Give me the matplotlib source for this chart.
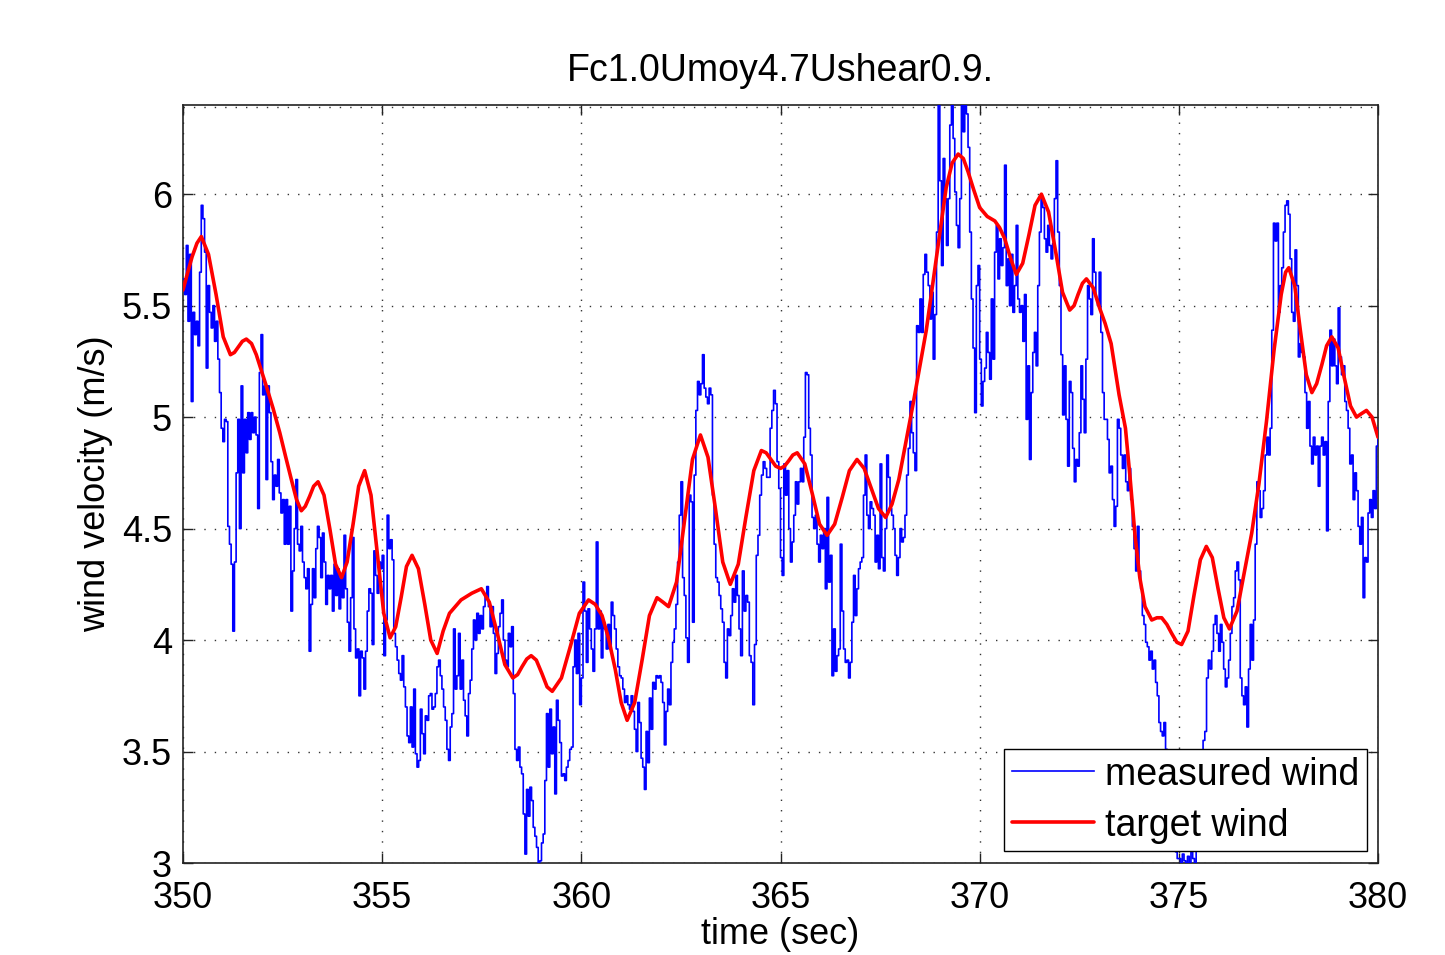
import numpy as np
import matplotlib
matplotlib.use("Agg")
import matplotlib.pyplot as plt

plt.rcParams['font.family'] = ['Liberation Sans', 'DejaVu Sans']

TITLE = "Fc1.0Umoy4.7Ushear0.9."
X_LABEL = "time (sec)"
Y_LABEL = "wind velocity (m/s)"
X_TICKS = [350, 355, 360, 365, 370, 375, 380]
Y_TICKS = [3, 3.5, 4, 4.5, 5, 5.5, 6]
Y_TICK_LABELS = ["3", "3.5", "4", "4.5", "5", "5.5", "6"]

# measured wind samples, one row per second starting at t = 350 s
measured_rows = [
    [5.62, 5.55, 5.77, 5.43, 5.73, 5.07, 5.47, 5.37, 5.43, 5.32, 5.65, 5.95, 5.89, 5.74, 5.22, 5.59, 5.47, 5.40, 5.50, 5.34, 5.43, 5.26, 5.11, 4.95],
    [4.89, 4.99, 4.98, 4.51, 4.43, 4.34, 4.04, 4.35, 4.75, 4.99, 4.50, 5.14, 4.75, 4.99, 4.84, 5.02, 4.90, 5.02, 4.93, 5.00, 4.92, 4.59, 5.20, 5.37],
    [5.10, 5.14, 4.72, 5.14, 5.02, 4.80, 4.63, 4.74, 4.69, 4.81, 4.66, 4.57, 4.63, 4.43, 4.63, 4.43, 4.60, 4.13, 4.31, 4.50, 4.72, 4.43, 4.40, 4.51],
    [4.35, 4.28, 4.23, 4.32, 3.95, 4.16, 4.32, 4.19, 4.41, 4.51, 4.46, 4.28, 4.48, 4.35, 4.16, 4.29, 4.23, 4.29, 4.13, 4.34, 4.20, 4.32, 4.14, 4.28],
    [4.19, 4.47, 4.23, 4.08, 3.95, 4.19, 4.46, 4.05, 3.92, 3.96, 3.75, 3.95, 3.92, 3.78, 3.95, 4.13, 4.23, 4.21, 3.98, 4.40, 4.29, 4.21, 4.35, 4.32],
    [4.38, 3.93, 4.09, 4.56, 4.41, 4.45, 4.36, 4.03, 3.97, 3.91, 3.85, 3.82, 3.93, 3.79, 3.70, 3.57, 3.54, 3.70, 3.52, 3.78, 3.49, 3.43, 3.46, 3.69],
    [3.58, 3.49, 3.66, 3.64, 3.75, 3.76, 3.69, 3.70, 3.76, 3.88, 3.91, 3.84, 3.78, 3.70, 3.64, 3.51, 3.46, 3.61, 3.67, 4.05, 3.78, 3.84, 4.03, 3.78],
    [3.91, 3.73, 3.66, 3.57, 3.76, 3.82, 3.96, 4.09, 4.00, 4.12, 4.03, 4.11, 4.05, 4.15, 4.20, 4.24, 4.15, 4.06, 4.15, 4.03, 3.85, 3.94, 4.06, 4.12],
    [4.18, 4.00, 3.91, 3.88, 4.03, 3.97, 4.06, 3.76, 3.51, 3.46, 3.52, 3.43, 3.40, 3.22, 3.04, 3.33, 3.21, 3.34, 3.28, 3.16, 3.12, 3.07, 3.00, 3.01],
    [3.09, 3.13, 3.37, 3.67, 3.43, 3.69, 3.49, 3.61, 3.31, 3.73, 3.64, 3.54, 3.39, 3.40, 3.37, 3.43, 3.46, 3.51, 3.52, 3.88, 4.00, 3.85, 4.03, 3.71],
    [3.83, 4.26, 4.13, 3.90, 4.14, 4.05, 3.96, 3.86, 4.05, 4.44, 4.05, 4.13, 3.92, 4.08, 4.05, 3.96, 4.07, 3.96, 4.17, 4.11, 4.05, 3.96, 3.88, 3.84],
    [3.83, 3.78, 3.72, 3.75, 3.71, 3.69, 3.75, 3.68, 3.60, 3.50, 3.72, 3.63, 3.47, 3.43, 3.33, 3.59, 3.45, 3.74, 3.60, 3.81, 3.78, 3.84, 3.83, 3.84],
    [3.81, 3.72, 3.53, 3.68, 3.78, 3.71, 3.90, 3.99, 4.05, 4.16, 4.35, 4.56, 4.71, 4.28, 4.20, 4.01, 3.90, 4.65, 4.62, 4.08, 4.74, 5.03, 5.16, 5.10],
    [5.15, 5.28, 5.13, 5.09, 5.06, 5.13, 5.10, 4.65, 4.43, 4.28, 4.26, 4.20, 4.14, 4.08, 3.90, 3.83, 4.05, 4.02, 4.11, 4.23, 4.17, 4.29, 4.20, 4.05],
    [3.93, 4.31, 4.13, 4.20, 4.17, 3.93, 3.90, 3.71, 3.98, 4.38, 4.47, 4.65, 4.74, 4.80, 4.77, 4.73, 4.73, 4.95, 5.03, 5.12, 5.06, 4.80, 4.68],
    [4.37, 4.29, 4.79, 4.65, 4.76, 4.50, 4.35, 4.44, 4.56, 4.71, 4.61, 4.71, 4.77, 4.71, 4.91, 5.20, 5.19, 4.95, 4.83, 4.55, 4.50, 4.56, 4.43, 4.35],
    [4.47, 4.41, 4.50, 4.23, 4.64, 4.26, 4.38, 3.84, 4.05, 3.86, 3.93, 3.96, 4.43, 4.13, 3.96, 3.90, 3.91, 3.83, 3.90, 4.08, 4.29, 4.11, 4.23, 4.32],
    [4.35, 4.37, 4.65, 4.83, 4.56, 4.50, 4.62, 4.59, 4.56, 4.35, 4.47, 4.32, 4.79, 4.37, 4.31, 4.50, 4.83, 4.73, 4.59, 4.56, 4.50, 4.38, 4.29, 4.37],
    [4.50, 4.44, 4.46, 4.56, 4.74, 4.86, 5.07, 4.93, 4.84, 4.76, 5.41, 5.38, 5.53, 5.38, 5.64, 5.73, 5.65, 5.59, 5.44, 5.56, 5.26, 5.46, 5.83, 6.40],
    [6.06, 5.68, 6.16, 5.98, 5.77, 5.98, 6.31, 6.40, 6.25, 6.01, 5.86, 5.76, 5.98, 6.40, 6.28, 6.43, 6.36, 6.21, 5.83, 5.53, 5.31, 5.02, 5.59, 5.68],
    [5.26, 5.05, 5.16, 5.22, 5.38, 5.29, 5.17, 5.53, 5.26, 5.74, 5.86, 5.62, 5.80, 5.68, 5.76, 6.13, 5.59, 5.71, 5.50, 5.73, 5.47, 5.59, 5.86, 5.53],
    [5.47, 5.50, 5.34, 5.55, 4.99, 5.23, 4.81, 5.11, 5.29, 5.38, 5.23, 5.59, 5.83, 5.98, 5.94, 5.80, 5.74, 5.86, 5.77, 5.71, 5.78, 5.98, 6.15, 5.83],
    [5.59, 5.28, 5.01, 5.23, 4.99, 4.78, 5.16, 5.11, 4.86, 4.71, 4.81, 4.78, 4.93, 5.23, 5.08, 4.93, 5.26, 5.59, 5.53, 5.46, 5.80, 5.65, 5.53, 5.50],
    [5.65, 5.38, 5.11, 4.99, 4.99, 4.90, 4.75, 4.78, 4.63, 4.51, 4.60, 4.99, 4.95, 4.83, 4.77, 4.83, 4.71, 4.67, 4.77, 4.63, 4.51, 4.41, 4.31, 4.51],
    [4.31, 4.23, 4.11, 4.07, 3.99, 3.97, 3.91, 3.95, 3.87, 3.91, 3.81, 3.75, 3.63, 3.59, 3.57, 3.63, 3.51, 3.47, 3.40, 3.30, 3.20, 3.10, 3.05, 3.02],
    [3.02, 3.00, 3.04, 3.01, 3.00, 3.03, 3.00, 3.05, 3.02, 3.00, 3.10, 3.25, 3.40, 3.47, 3.55, 3.59, 3.83, 3.91, 3.87, 3.95, 4.07, 4.11, 4.03],
    [3.95, 4.07, 3.99, 3.87, 3.79, 3.83, 3.91, 4.03, 4.15, 4.19, 4.31, 4.35, 4.27, 3.83, 3.75, 3.71, 3.79, 3.61, 3.87, 4.07, 3.91, 4.09, 4.43, 4.71],
    [4.67, 4.55, 4.59, 4.67, 4.83, 4.91, 4.83, 4.95, 5.39, 5.87, 5.79, 5.87, 5.47, 5.59, 5.67, 5.83, 5.95, 5.97, 5.91, 5.71, 5.47, 5.43, 5.75, 5.59],
    [5.27, 5.33, 5.29, 5.27, 5.11, 4.95, 5.07, 4.87, 4.79, 4.91, 4.83, 4.87, 4.69, 4.87, 4.91, 4.83, 4.89, 4.49, 5.07, 5.39, 5.23, 5.35, 5.23, 5.15],
    [5.49, 5.27, 5.19, 5.23, 5.07, 5.03, 4.95, 4.79, 4.83, 4.63, 4.75, 4.67, 4.51, 4.43, 4.55, 4.19, 4.37, 4.35, 4.57, 4.63, 4.55, 4.67, 4.59, 4.87, 4.95],
]
measured_start = 350

# target wind profile (time in s, velocity in m/s)
target_t = [350.00, 350.12, 350.23, 350.35, 350.46, 350.64, 350.83, 351.01, 351.19, 351.29,
            351.39, 351.49, 351.59, 351.72, 351.84, 352.09, 352.26, 352.43, 352.58, 352.72,
            352.85, 352.97, 353.07, 353.18, 353.28, 353.39, 353.54, 353.69, 353.83, 353.98,
            354.12, 354.27, 354.41, 354.56, 354.72, 354.88, 355.04, 355.20, 355.34, 355.48,
            355.61, 355.75, 355.91, 356.07, 356.22, 356.38, 356.53, 356.69, 356.98, 357.25,
            357.49, 357.69, 357.89, 358.08, 358.28, 358.40, 358.51, 358.63, 358.74, 358.87,
            359.01, 359.14, 359.27, 359.50, 359.73, 359.95, 360.18, 360.35, 360.52, 360.68,
            360.85, 361.00, 361.15, 361.34, 361.53, 361.71, 361.90, 362.05, 362.19, 362.39,
            362.59, 362.79, 362.99, 363.18, 363.37, 363.55, 363.74, 363.94, 364.13, 364.33,
            364.52, 364.64, 364.76, 364.88, 365.00, 365.10, 365.21, 365.31, 365.42, 365.61,
            365.80, 365.98, 366.17, 366.36, 366.55, 366.73, 366.92, 367.10, 367.28, 367.46,
            367.64, 367.80, 367.97, 368.33, 368.66, 368.91, 369.16, 369.31, 369.46, 369.59,
            369.71, 369.85, 370.00, 370.19, 370.38, 370.50, 370.63, 370.78, 370.92, 371.08,
            371.24, 371.39, 371.55, 371.73, 371.91, 372.08, 372.26, 372.37, 372.47, 372.58,
            372.68, 372.85, 373.01, 373.15, 373.30, 373.50, 373.66, 373.78, 373.90, 374.02,
            374.15, 374.32, 374.45, 374.57, 374.70, 374.82, 374.95, 375.07, 375.23, 375.38,
            375.54, 375.69, 375.84, 375.98, 376.13, 376.27, 376.46, 376.64, 376.83, 377.01,
            377.20, 377.39, 377.57, 377.68, 377.76, 377.91, 378.05, 378.20, 378.34, 378.46,
            378.59, 378.71, 378.84, 379.00, 379.15, 379.31, 379.46, 379.58, 379.71, 379.85,
            380.00]
target_v = [5.57, 5.65, 5.72, 5.78, 5.81, 5.73, 5.55, 5.36, 5.28, 5.29,
            5.315, 5.34, 5.35, 5.33, 5.28, 5.14, 5.04, 4.93, 4.82, 4.72,
            4.63, 4.58, 4.60, 4.645, 4.69, 4.71, 4.65, 4.495, 4.34, 4.28,
            4.35, 4.52, 4.69, 4.76, 4.65, 4.385, 4.12, 4.01, 4.06, 4.195,
            4.33, 4.38, 4.32, 4.16, 4.00, 3.94, 4.04, 4.12, 4.18, 4.21,
            4.23, 4.17, 4.03, 3.89, 3.83, 3.845, 3.88, 3.915, 3.93, 3.91,
            3.85, 3.79, 3.77, 3.83, 3.975, 4.12, 4.18, 4.16, 4.11, 4.01,
            3.87, 3.72, 3.64, 3.72, 3.915, 4.11, 4.19, 4.17, 4.15, 4.26,
            4.535, 4.81, 4.92, 4.82, 4.585, 4.35, 4.25, 4.34, 4.55, 4.76,
            4.85, 4.84, 4.81, 4.78, 4.77, 4.78, 4.805, 4.83, 4.84, 4.79,
            4.655, 4.52, 4.47, 4.52, 4.64, 4.76, 4.81, 4.77, 4.68, 4.59,
            4.55, 4.61, 4.72, 5.06, 5.39, 5.71, 6.03, 6.14, 6.18, 6.16,
            6.10, 6.02, 5.94, 5.90, 5.88, 5.85, 5.80, 5.71, 5.64, 5.69,
            5.82, 5.95, 6.00, 5.92, 5.74, 5.56, 5.48, 5.50, 5.55, 5.60,
            5.62, 5.58, 5.49, 5.42, 5.33, 5.10, 4.95, 4.72, 4.47, 4.28,
            4.15, 4.09, 4.10, 4.10, 4.07, 4.03, 3.99, 3.98, 4.04, 4.20,
            4.36, 4.42, 4.37, 4.235, 4.10, 4.05, 4.13, 4.30, 4.48, 4.70,
            4.98, 5.30, 5.55, 5.65, 5.67, 5.59, 5.39, 5.19, 5.11, 5.15,
            5.235, 5.32, 5.36, 5.31, 5.18, 5.05, 5.00, 5.015, 5.03, 5.00,
            4.91]

# time stamps for the measured samples, evenly spread within each second
meas_t, meas_v = [], []
last = len(measured_rows) - 1
for i, row in enumerate(measured_rows):
    n = len(row)
    t0 = measured_start + i
    if i == last:
        ts = np.linspace(t0, t0 + 1, n)
    else:
        ts = t0 + np.arange(n) / n
    meas_t.extend(ts)
    meas_v.extend(row)
meas_t = np.array(meas_t)
meas_v = np.array(meas_v)

fig = plt.figure(figsize=(14.45, 9.55), dpi=100)
ax = fig.add_axes([183 / 1445, 1 - 863 / 955, 1195 / 1445, 758 / 955])

ax.plot(meas_t, meas_v, color=(0, 0, 1), lw=1.2, drawstyle='steps-post',
        label="measured wind", zorder=3)
ax.plot(target_t, target_v, color=(1, 0, 0), lw=2.6, solid_joinstyle='round',
        solid_capstyle='round', label="target wind", zorder=4)

ax.set_xlim(350, 380)
ax.set_ylim(3, 6.4)
ax.set_xticks(X_TICKS)
ax.set_xticklabels([str(v) for v in X_TICKS])
ax.set_yticks(Y_TICKS)
ax.set_yticklabels(Y_TICK_LABELS)

ax.grid(True, color='#333333', linestyle=(0, (1, 6.5)), linewidth=1.0)
ax.set_axisbelow(True)
ax.axhline(6.392, color='#333333', linestyle=(0, (1, 6.5)), linewidth=1.0, zorder=1)

ax.tick_params(direction='in', length=7, width=1.0, top=True, right=True,
               labelsize=26, colors='#222222', labelcolor='black')
ax.tick_params(axis='x', pad=13)
ax.tick_params(axis='y', pad=8)
for s in ax.spines.values():
    s.set_linewidth(1.2)
    s.set_color('#222222')

ax.set_title(TITLE, fontsize=27, pad=17)
ax.set_xlabel(X_LABEL, fontsize=26, labelpad=1)
ax.set_ylabel(Y_LABEL, fontsize=26, labelpad=6)

leg = ax.legend(loc='lower right', bbox_to_anchor=(0.9908, 0.0158), borderaxespad=0,
                fontsize=27, handlelength=2.2, handletextpad=0.3, borderpad=0.2,
                labelspacing=0.4, fancybox=False, framealpha=1, edgecolor='black')
leg.get_frame().set_linewidth(1.0)
leg.set_zorder(10)

fig.savefig("out.png", dpi=100, facecolor='white')
